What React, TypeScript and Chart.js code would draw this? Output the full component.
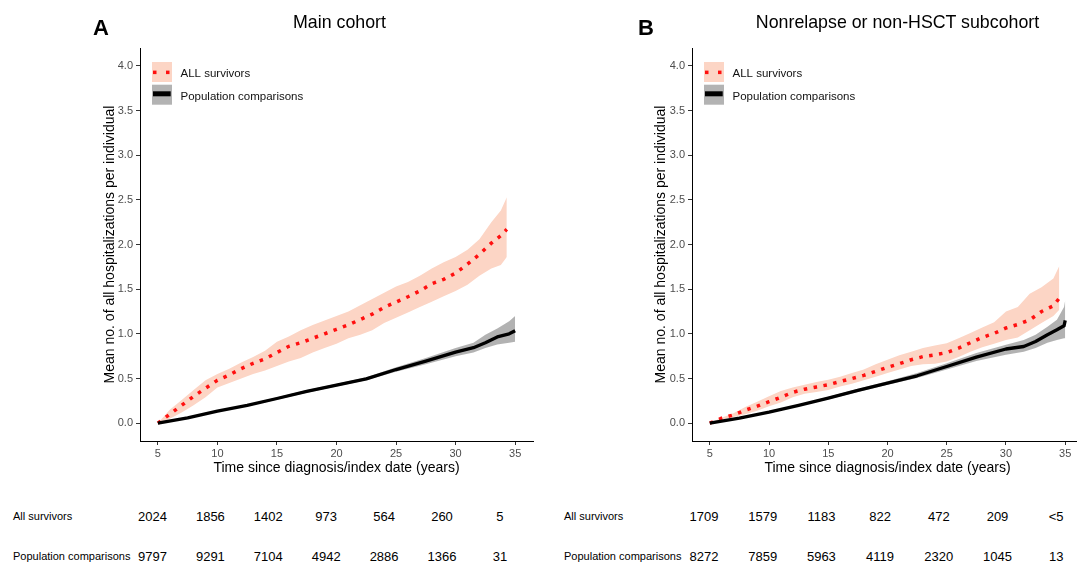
import React, { useEffect, useRef } from "react";
import { Chart, registerables } from "chart.js";
Chart.register(...registerables);

const FONT = '"Liberation Sans", Arial, Helvetica, sans-serif';
const PINK = "#FCD5C5";
const RED = "#ff1010";
const GRAY_BAND = "rgba(0,0,0,0.3)";

const xTicks = [5, 10, 15, 20, 25, 30, 35];
const yTicks = [0, 0.5, 1, 1.5, 2, 2.5, 3, 3.5, 4];
const seriesLabels = ["ALL survivors", "Population comparisons"];

// ---- Panel A: Main cohort ----
const aSurvTimes = [5, 6, 7, 8, 9, 10, 11, 12, 13, 14, 15, 16, 17, 18, 19, 20, 21, 22, 23, 24, 25, 26, 27, 28, 29, 30, 31, 32, 33, 33.8, 34.3];
const aSurvMean = [0, 0.1, 0.2, 0.3, 0.39, 0.48, 0.54, 0.61, 0.67, 0.72, 0.79, 0.86, 0.9, 0.95, 1.0, 1.05, 1.1, 1.16, 1.22, 1.297, 1.355, 1.415, 1.48, 1.56, 1.61, 1.68, 1.78, 1.89, 2.015, 2.1, 2.17];
const aSurvUpper = [0, 0.15, 0.26, 0.37, 0.48, 0.55, 0.61, 0.68, 0.74, 0.81, 0.91, 0.97, 1.04, 1.1, 1.15, 1.2, 1.25, 1.32, 1.39, 1.46, 1.53, 1.58, 1.65, 1.73, 1.8, 1.86, 1.94, 2.06, 2.25, 2.38, 2.53];
const aSurvLower = [0, 0.05, 0.12, 0.2, 0.29, 0.4, 0.45, 0.5, 0.55, 0.59, 0.64, 0.69, 0.73, 0.79, 0.84, 0.89, 0.95, 0.99, 1.04, 1.12, 1.18, 1.24, 1.3, 1.36, 1.42, 1.48, 1.55, 1.65, 1.73, 1.77, 1.86];

const aPopTimes = [5, 7.5, 10, 12.5, 15, 17.5, 20, 22.5, 25, 27.5, 30, 31.5, 32.5, 33.5, 34.5, 35];
const aPopMean = [0, 0.06, 0.135, 0.2, 0.276, 0.355, 0.425, 0.495, 0.6, 0.695, 0.795, 0.845, 0.9, 0.965, 1.0, 1.035];
const aPopUpper = [0, 0.065, 0.145, 0.21, 0.29, 0.37, 0.44, 0.515, 0.625, 0.73, 0.84, 0.9, 0.99, 1.06, 1.14, 1.2];
const aPopLower = [0, 0.055, 0.125, 0.19, 0.262, 0.34, 0.41, 0.48, 0.575, 0.66, 0.75, 0.79, 0.84, 0.88, 0.9, 0.91];

// ---- Panel B: Nonrelapse or non-HSCT subcohort ----
const bSurvTimes = [5, 6, 7, 8, 9, 10, 11, 12, 13, 14, 15, 16, 17, 18, 19, 20, 21, 22, 23, 24, 25, 26, 27, 28, 29, 30, 31, 32, 33, 34, 34.5];
const bSurvMean = [0, 0.055, 0.092, 0.145, 0.19, 0.24, 0.29, 0.345, 0.38, 0.405, 0.43, 0.466, 0.5, 0.535, 0.58, 0.625, 0.665, 0.71, 0.745, 0.765, 0.79, 0.84, 0.9, 0.96, 1.005, 1.065, 1.105, 1.155, 1.25, 1.313, 1.4];
const bSurvUpper = [0, 0.06, 0.11, 0.18, 0.24, 0.3, 0.36, 0.4, 0.43, 0.46, 0.485, 0.52, 0.56, 0.6, 0.66, 0.71, 0.76, 0.8, 0.84, 0.87, 0.895, 0.95, 1.01, 1.07, 1.13, 1.25, 1.3, 1.45, 1.52, 1.62, 1.76];
const bSurvLower = [0, 0.04, 0.07, 0.1, 0.14, 0.19, 0.23, 0.29, 0.33, 0.35, 0.37, 0.41, 0.44, 0.48, 0.52, 0.56, 0.6, 0.64, 0.66, 0.665, 0.69, 0.74, 0.8, 0.85, 0.89, 0.93, 0.96, 1.04, 1.12, 1.2, 1.27];

const bPopTimes = [5, 7.5, 10, 12.5, 15, 17.5, 20, 22.5, 25, 27.5, 30, 31.5, 32.5, 33.5, 34.3, 34.9, 35];
const bPopMean = [0, 0.056, 0.123, 0.2, 0.28, 0.366, 0.448, 0.53, 0.634, 0.739, 0.83, 0.858, 0.914, 0.99, 1.045, 1.09, 1.15];
const bPopUpper = [0, 0.06, 0.13, 0.21, 0.295, 0.385, 0.47, 0.56, 0.67, 0.785, 0.877, 0.93, 0.99, 1.08, 1.157, 1.3, 1.38];
const bPopLower = [0, 0.052, 0.115, 0.19, 0.265, 0.35, 0.43, 0.505, 0.6, 0.695, 0.765, 0.8, 0.84, 0.9, 0.93, 0.95, 0.95];

// ---- Risk tables ----
const riskTimes = [5, 10, 15, 20, 25, 30, 35];
const riskRowLabels = ["All survivors", "Population comparisons"];
const aRiskSurv = ["2024", "1856", "1402", "973", "564", "260", "5"];
const aRiskPop = ["9797", "9291", "7104", "4942", "2886", "1366", "31"];
const bRiskSurv = ["1709", "1579", "1183", "822", "472", "209", "<5"];
const bRiskPop = ["8272", "7859", "5963", "4119", "2320", "1045", "13"];

const pts = (t: number[], v: number[]) => t.map((x, i) => ({ x, y: v[i] }));

const legendPlugin = {
  id: "ggLegend",
  afterDatasetsDraw(chart: any) {
    const { ctx, chartArea } = chart;
    const left = chartArea.left;
    const top = chartArea.top;
    ctx.save();
    ctx.fillStyle = PINK;
    ctx.fillRect(left + 12, top + 14, 20, 20);
    ctx.fillStyle = RED;
    ctx.fillRect(left + 13, top + 22.6, 3.5, 3.5);
    ctx.fillRect(left + 26, top + 22.6, 3.5, 3.5);
    ctx.fillStyle = "#b3b3b3";
    ctx.fillRect(left + 12, top + 36.7, 20, 20);
    ctx.fillStyle = "#000";
    ctx.fillRect(left + 13, top + 43.3, 17.7, 5);
    ctx.font = `11.5px ${FONT}`;
    ctx.fillStyle = "#111";
    ctx.textBaseline = "middle";
    ctx.textAlign = "left";
    ctx.fillText(seriesLabels[0], left + 40.5, top + 25.8);
    ctx.fillText(seriesLabels[1], left + 40.5, top + 48.8);
    ctx.restore();
  },
};

type PanelProps = {
  left: number;
  padLeft: number;
  yWidth: number;
  padRight: number;
  surv: { t: number[]; m: number[]; u: number[]; l: number[] };
  pop: { t: number[]; m: number[]; u: number[]; l: number[] };
};

function Panel({ left, padLeft, yWidth, padRight, surv, pop }: PanelProps) {
  const ref = useRef<HTMLCanvasElement | null>(null);
  useEffect(() => {
    if (!ref.current) return;
    const chart = new Chart(ref.current, {
      type: "line",
      data: {
        datasets: [
          {
            label: seriesLabels[1],
            data: pts(pop.t, pop.m),
            borderColor: "#000",
            borderWidth: 3.3,
            pointRadius: 0,
            fill: false,
            borderJoinStyle: "round",
          },
          {
            label: seriesLabels[0],
            data: pts(surv.t, surv.m),
            borderColor: RED,
            borderWidth: 3.5,
            borderDash: [3.5, 6.5],
            borderCapStyle: "butt",
            pointRadius: 0,
            fill: false,
          },
          {
            label: "pop upper",
            data: pts(pop.t, pop.u),
            borderWidth: 0,
            pointRadius: 0,
            backgroundColor: GRAY_BAND,
            fill: "+1",
          },
          {
            label: "pop lower",
            data: pts(pop.t, pop.l),
            borderWidth: 0,
            pointRadius: 0,
            fill: false,
          },
          {
            label: "surv upper",
            data: pts(surv.t, surv.u),
            borderWidth: 0,
            pointRadius: 0,
            backgroundColor: PINK,
            fill: "+1",
          },
          {
            label: "surv lower",
            data: pts(surv.t, surv.l),
            borderWidth: 0,
            pointRadius: 0,
            fill: false,
          },
        ] as any,
      },
      options: {
        animation: false,
        responsive: false,
        maintainAspectRatio: false,
        layout: { padding: { left: padLeft, right: padRight, top: 48, bottom: 11 } },
        plugins: {
          legend: { display: false },
          tooltip: { enabled: false },
          title: { display: false },
        },
        elements: { line: { tension: 0 }, point: { radius: 0 } },
        scales: {
          x: {
            type: "linear",
            min: 3.5,
            max: 36.5,
            afterBuildTicks: (s: any) => {
              s.ticks = xTicks.map((v) => ({ value: v }));
            },
            afterFit: (s: any) => {
              s.height = 38;
            },
            ticks: {
              autoSkip: false,
              maxRotation: 0,
              padding: 2,
              color: "#4d4d4d",
              font: { family: FONT, size: 11 },
            },
            grid: { display: true, drawOnChartArea: false, tickLength: 4, color: "#333", tickColor: "#333" },
            border: { display: true, color: "#000", width: 1 },
            title: {
              display: true,
              text: "Time since diagnosis/index date (years)",
              color: "#000",
              font: { family: FONT, size: 14 },
              padding: { top: 0, bottom: 2 },
            },
          },
          y: {
            type: "linear",
            min: -0.2,
            max: 4.2,
            afterBuildTicks: (s: any) => {
              s.ticks = yTicks.map((v) => ({ value: v }));
            },
            afterFit: (s: any) => {
              s.width = yWidth;
            },
            ticks: {
              padding: 3,
              color: "#4d4d4d",
              font: { family: FONT, size: 11 },
              callback: (v: any) => Number(v).toFixed(1),
            },
            grid: { display: true, drawOnChartArea: false, tickLength: 4, color: "#333", tickColor: "#333" },
            border: { display: true, color: "#000", width: 1 },
            title: {
              display: true,
              text: "Mean no. of all hospitalizations per individual",
              color: "#000",
              font: { family: FONT, size: 14 },
              padding: { top: 4, bottom: 0 },
            },
          },
        },
      } as any,
      plugins: [legendPlugin],
    });
    return () => chart.destroy();
  }, []);
  return (
    <canvas
      ref={ref}
      width={545}
      height={490}
      style={{ position: "absolute", left, top: 0, width: 545, height: 490 }}
    />
  );
}

const txt = (x: number, y: number, size: number, extra: any = {}) => ({
  position: "absolute" as const,
  left: x,
  top: y,
  fontSize: size,
  fontFamily: FONT,
  lineHeight: 1,
  whiteSpace: "nowrap" as const,
  color: "#000",
  ...extra,
});

function RiskTable({ labelX, x0, step, surv, pop }: { labelX: number; x0: number; step: number; surv: string[]; pop: string[] }) {
  const rows = [surv, pop];
  const ys = [516.2, 556.2];
  return (
    <>
      {rows.map((row, r) => (
        <React.Fragment key={r}>
          <div style={txt(labelX, ys[r], 11, { transform: "translateY(-50%)" })}>{riskRowLabels[r]}</div>
          {row.map((s, i) => (
            <div key={i} style={txt(x0 + ((riskTimes[i] - 5) / 5) * step, ys[r], 13, { transform: "translate(-50%,-50%)" })}>
              {s}
            </div>
          ))}
        </React.Fragment>
      ))}
    </>
  );
}

export default function App() {
  return (
    <div style={{ position: "fixed", left: 0, top: 0, width: 1077, height: 564, overflow: "hidden", background: "#fff" }}>
      <Panel
        left={0}
        padLeft={98}
        yWidth={42}
        padRight={12}
        surv={{ t: aSurvTimes, m: aSurvMean, u: aSurvUpper, l: aSurvLower }}
        pop={{ t: aPopTimes, m: aPopMean, u: aPopUpper, l: aPopLower }}
      />
      <Panel
        left={545}
        padLeft={104}
        yWidth={43}
        padRight={7}
        surv={{ t: bSurvTimes, m: bSurvMean, u: bSurvUpper, l: bSurvLower }}
        pop={{ t: bPopTimes, m: bPopMean, u: bPopUpper, l: bPopLower }}
      />
      <div style={txt(93, 17, 22, { fontWeight: "bold" })}>A</div>
      <div style={txt(638, 17, 22, { fontWeight: "bold" })}>B</div>
      <div style={txt(339.5, 22.5, 17.8, { transform: "translate(-50%,-50%)" })}>Main cohort</div>
      <div style={txt(897.5, 22.5, 17.8, { transform: "translate(-50%,-50%)" })}>Nonrelapse or non-HSCT subcohort</div>
      <RiskTable labelX={13} x0={152.5} step={57.9} surv={aRiskSurv} pop={aRiskPop} />
      <RiskTable labelX={564} x0={704} step={58.7} surv={bRiskSurv} pop={bRiskPop} />
    </div>
  );
}
